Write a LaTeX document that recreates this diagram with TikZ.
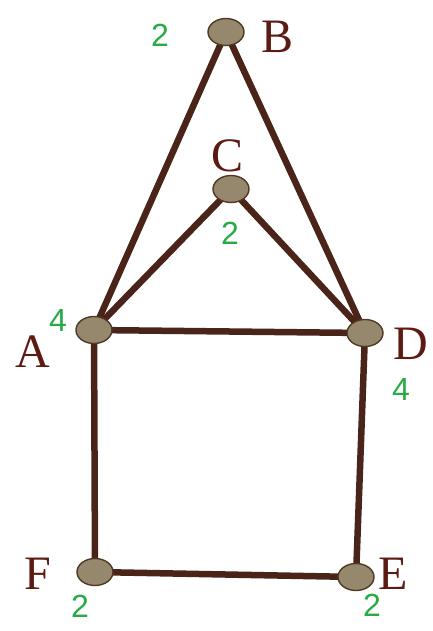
\documentclass[tikz,border=0pt]{standalone}
\usepackage{fontspec}
\setmainfont{Liberation Serif}
\newfontfamily\handfont{Liberation Sans}
\usetikzlibrary{shapes.geometric,backgrounds}
\definecolor{edgebrown}{RGB}{74,36,24}
\definecolor{vtxfill}{RGB}{150,136,108}
\definecolor{vtxline}{RGB}{80,56,36}
\definecolor{lblred}{RGB}{92,26,18}
\definecolor{deggreen}{RGB}{40,170,70}

\begin{document}
\begin{tikzpicture}[x=1pt, y=-1pt,
  vtx/.style={ellipse, draw=vtxline, fill=vtxfill, line width=1.4pt, minimum width=36pt, minimum height=27pt, inner sep=0pt},
  lbl/.style={text=lblred, font=\fontsize{48}{48}\selectfont, inner sep=0pt},
  deg/.style={text=deggreen, font=\handfont\fontsize{32}{32}\selectfont, inner sep=0pt},
  edge/.style={draw=edgebrown, line width=6.5pt}]
  \useasboundingbox (0,0) rectangle (433,631);
  % vertices
  \node[vtx] (B) at (226,32) {};
  \node[vtx] (C) at (231,189) {};
  \node[vtx] (A) at (94,330) {};
  \node[vtx] (D) at (365,333) {};
  \node[vtx] (F) at (95,572) {};
  \node[vtx] (E) at (356,577) {};
  % names
  \node[lbl] (lblB) at (278,37) {B};
  \node[lbl] (lblC) at (228,156) {C};
  \node[lbl] (lblA) at (33,352) {A};
  \node[lbl] (lblD) at (411,344) {D};
  \node[lbl] (lblF) at (38,574) {F};
  \node[lbl] (lblE) at (393,574) {E};
  % degrees
  \node[deg] (degB) at (160,35) {2};
  \node[deg] (degC) at (230,233) {2};
  \node[deg] (degA) at (58,320) {4};
  \node[deg] (degD) at (401,389) {4};
  \node[deg] (degF) at (80,606) {2};
  \node[deg] (degE) at (372,605) {2};
  \begin{pgfonlayer}{background}
    \draw[edge] (A.center) -- (B.center) -- (D.center);
    \draw[edge] (A.center) -- (C.center) -- (D.center);
    \draw[edge] (A.center) -- (D.center) -- (E.center) -- (F.center) -- (A.center);
  \end{pgfonlayer}
\end{tikzpicture}
\end{document}
